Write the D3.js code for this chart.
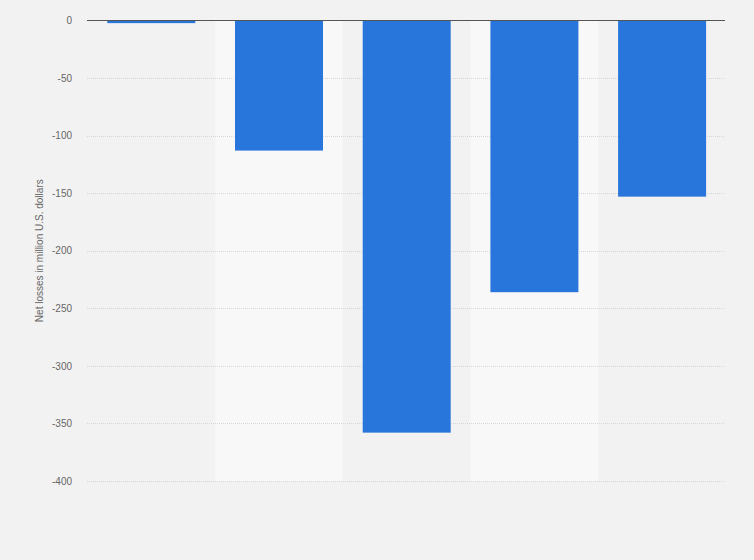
<!DOCTYPE html>
<html><head><meta charset="utf-8">
<script src="https://cdn.jsdelivr.net/npm/d3@7"></script>
<style>html,body{margin:0;padding:0;background:#f2f2f2;}svg{display:block;}</style>
</head><body>
<svg id="chart" width="754" height="560"></svg>
<script>
const categories = ["A", "B", "C", "D", "E"];
const values = [-2.3, -113, -358, -236, -153];
const yTicks = [0, -50, -100, -150, -200, -250, -300, -350, -400];
const yLabel = "Net losses in million U.S. dollars";

const svg = d3.select("#chart");
const W = 754, H = 560;
const m = {left: 87, right: 29, top: 20.5, bottom: 79};
const x = d3.scaleBand().domain(categories).range([m.left, 726.4]).paddingInner(0.311).paddingOuter(0.159);
const y = d3.scaleLinear().domain([-400, 0]).range([H - m.bottom, m.top]);

svg.append("rect").attr("width", W).attr("height", H).attr("fill", "#f2f2f2");

// alternating column bands
const step = x.step();
svg.append("g").selectAll("rect").data(categories).join("rect")
  .attr("x", d => x(d) - step * x.paddingInner() / 2)
  .attr("y", y(0))
  .attr("width", step)
  .attr("height", y(-400) - y(0))
  .attr("fill", (d, i) => i % 2 === 1 ? "#f8f8f8" : "none");

// grid + ticks
const yAxis = d3.axisLeft(y).tickValues(yTicks).tickSize(0).tickPadding(15).tickFormat(d => String(d));
const ga = svg.append("g").attr("transform", `translate(${m.left},0)`).call(yAxis);
ga.select(".domain").remove();
ga.selectAll("text").attr("fill", "#666").style("font-family", "Liberation Sans, Arial, sans-serif").style("font-size", "10px");
svg.append("g").selectAll("line").data(yTicks.filter(t => t !== 0)).join("line")
  .attr("x1", m.left).attr("x2", W - m.right)
  .attr("y1", d => Math.round(y(d)) + 0.5).attr("y2", d => Math.round(y(d)) + 0.5)
  .attr("stroke", "#d6d6d6").attr("stroke-width", 1).attr("stroke-dasharray", "1,1");

// bars
svg.append("g").selectAll("rect").data(values).join("rect")
  .attr("x", (d, i) => x(categories[i]))
  .attr("y", d => y(0))
  .attr("width", x.bandwidth())
  .attr("height", d => y(d) - y(0))
  .attr("fill", "#2876db");

// zero line
svg.append("line").attr("x1", m.left).attr("x2", W - m.right)
  .attr("y1", y(0)).attr("y2", y(0)).attr("stroke", "#555").attr("stroke-width", 1.2);

// y label
svg.append("text").attr("transform", `translate(43,${(y(0) + y(-400)) / 2}) rotate(-90)`)
  .attr("text-anchor", "middle").attr("fill", "#666")
  .style("font-family", "Liberation Sans, Arial, sans-serif").style("font-size", "10px")
  .text(yLabel);
</script>
</body></html>
